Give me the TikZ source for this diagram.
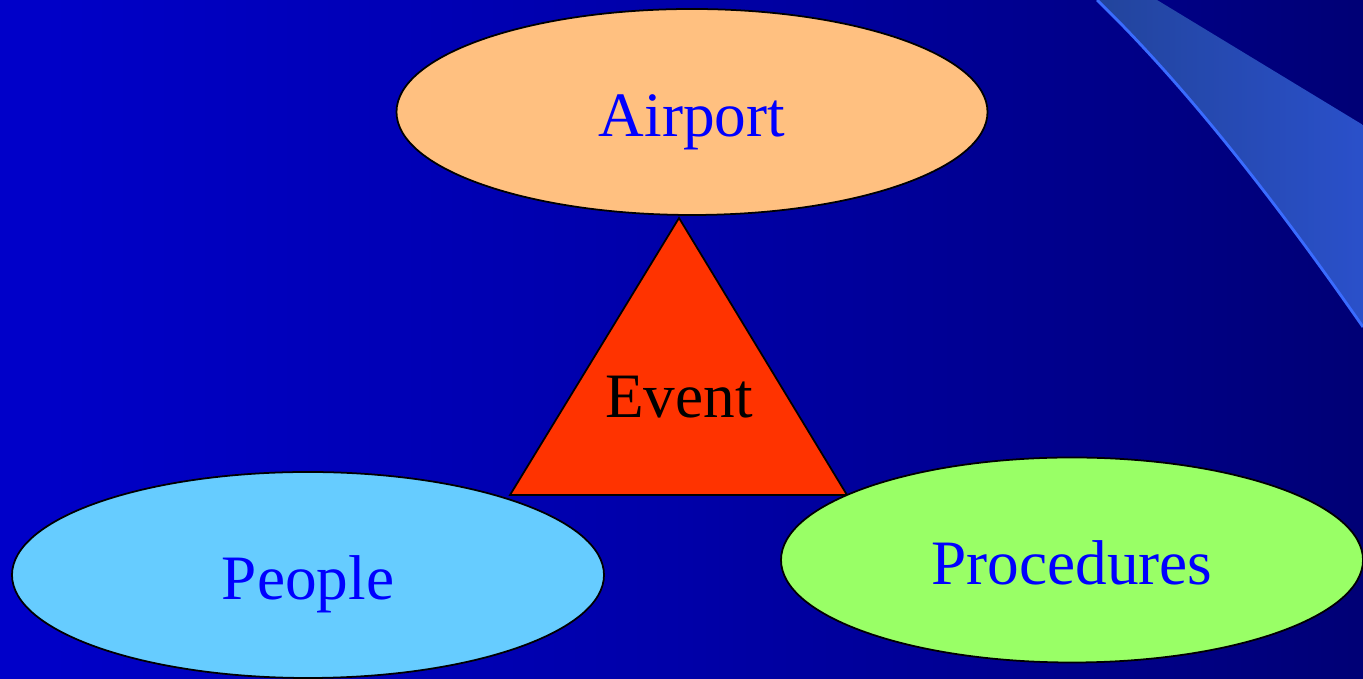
\documentclass[tikz,border=0pt]{standalone}
\usepackage{fontspec}
\setmainfont{Liberation Serif}
\usepackage{tikz}
\usetikzlibrary{shapes.geometric}
\definecolor{Peach}{HTML}{FFC080}
\definecolor{Sky}{HTML}{66CCFF}
\definecolor{Lime}{HTML}{99FF66}
\definecolor{Flame}{HTML}{FF3300}
\definecolor{Ink}{HTML}{0000FF}
\definecolor{Band1}{HTML}{22449C}
\definecolor{Band2}{HTML}{2A50CA}
\definecolor{BandEdge}{HTML}{3A6CFF}
\pgfdeclarehorizontalshading{backdrop}{100bp}{rgb(0bp)=(0,0,0.92); rgb(50bp)=(0,0,0.66); rgb(80bp)=(0,0,0.42); rgb(100bp)=(0,0,0.2)}

\tikzset{
  blob/.style={ellipse,draw=black,line width=0.5pt,text=Ink,
    text height=0.5cm,text depth=0cm,inner sep=0pt},
  eventtri/.style={fill=Flame,draw=black,line width=0.5pt,line join=miter}
}

\begin{document}
\begin{tikzpicture}[x=1cm,y=1cm,font=\fontsize{18}{20}\selectfont]
\useasboundingbox (0,0) rectangle (13.63,6.79);
\shade[shading=backdrop] (0,0) rectangle (13.63,6.79);

% swoosh in the top right corner
\shade[left color=Band1,right color=Band2]
  (10.97,6.79) .. controls (11.95,5.84) and (12.90,4.57) .. (13.63,3.52)
  -- (13.63,5.54) -- (11.57,6.79) -- cycle;
\draw[BandEdge,line width=0.8pt]
  (10.97,6.79) .. controls (11.95,5.84) and (12.90,4.57) .. (13.63,3.52);

% the three ellipses and the event triangle
\node[blob,fill=Peach,minimum width=5.91cm,minimum height=2.06cm] (airport) at (6.92,5.67) {Airport};
\filldraw[eventtri] (6.79,4.61) -- (5.10,1.84) -- (8.47,1.84) -- cycle;
\node[anchor=base] (event) at (6.79,2.61) {Event};
\node[blob,fill=Sky,minimum width=5.92cm,minimum height=2.06cm] (people) at (3.08,1.04) {People};
\node[blob,fill=Lime,minimum width=5.82cm,minimum height=2.05cm] (procedures) at (10.72,1.19) {Procedures};
\end{tikzpicture}
\end{document}
